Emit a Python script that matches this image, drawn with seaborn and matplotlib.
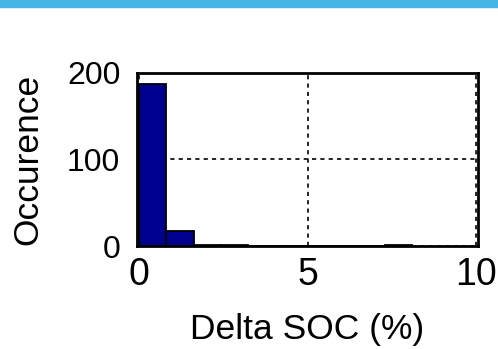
import numpy as np
import pandas as pd
import matplotlib
matplotlib.use("Agg")
import matplotlib.pyplot as plt
import seaborn as sns
from matplotlib.patches import Rectangle

# Histogram of SOC change per event
bin_edges = [round(0.81 * i, 2) for i in range(11)]
bin_counts = [187, 17, 1, 1, 0, 0, 0, 0, 0, 1]
x_ticks = [0, 5, 10]
y_ticks = [0, 100, 200]

sns.set_theme(style="white")
plt.rcParams["font.family"] = ["Liberation Sans", "DejaVu Sans"]
plt.rcParams["text.color"] = "black"
plt.rcParams["axes.labelcolor"] = "black"
plt.rcParams["xtick.color"] = "black"
plt.rcParams["ytick.color"] = "black"

edges = np.asarray(bin_edges)
df = pd.DataFrame({
    "delta_soc": (edges[:-1] + edges[1:]) / 2,
    "count": bin_counts,
})

fig = plt.figure(figsize=(4.98, 3.49), dpi=100)
ax = fig.add_axes([0.275, 0.295, 0.685, 0.497])

sns.histplot(data=df, x="delta_soc", weights="count", bins=bin_edges,
             ax=ax, color="#00008F", alpha=1.0,
             edgecolor="black", linewidth=1.3)

ax.set_xlim(-0.06, 10.05)
ax.set_ylim(0, 200)
ax.set_xticks(x_ticks)
ax.set_yticks(y_ticks)
ax.grid(True, color="black", linestyle=(0, (2.5, 2.5)), linewidth=1.2)
ax.set_axisbelow(True)
ax.tick_params(axis="both", direction="in", length=3,
               width=1, color="black", labelcolor="black")
ax.tick_params(axis="x", labelsize=27, pad=8)
ax.tick_params(axis="y", labelsize=23, pad=12)
for s in ax.spines.values():
    s.set_color("black")
    s.set_linewidth(2)

ax.set_xlabel("Delta SOC (%)", fontsize=25.5, labelpad=14, color="black")
ax.set_ylabel("Occurence", fontsize=25.5, labelpad=16, color="black")

# banner across the top of the figure
fig.patches.append(Rectangle((0, 1 - 7 / 349), 1, 7 / 349,
                             transform=fig.transFigure, color="#45B5E5",
                             zorder=0))

fig.savefig("out.png", dpi=100)
